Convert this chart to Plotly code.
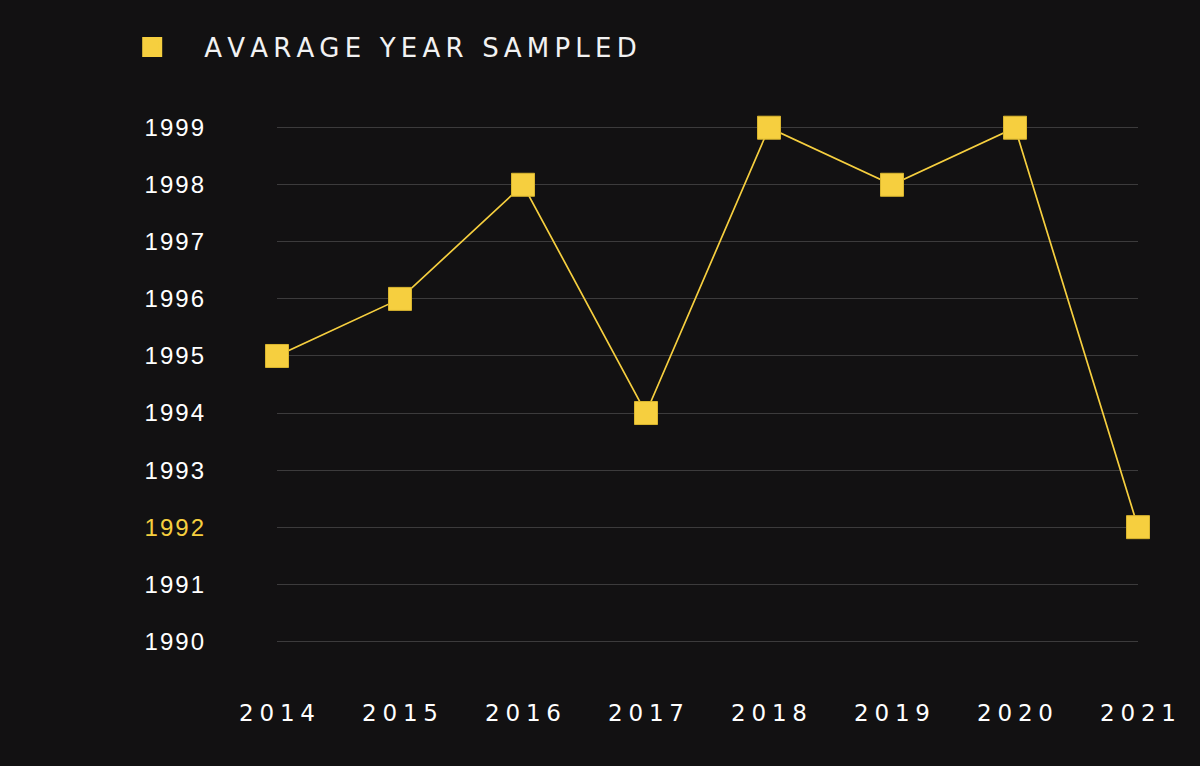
import plotly.graph_objects as go

years = [2014, 2015, 2016, 2017, 2018, 2019, 2020, 2021]
avg_year = [1995, 1996, 1998, 1994, 1999, 1998, 1999, 1992]
y_ticks = [1990, 1991, 1992, 1993, 1994, 1995, 1996, 1997, 1998, 1999]
series_name = "AVARAGE YEAR SAMPLED"

YELLOW = "#f6cf3f"
BG = "#121112"
TS = "\u2009"   # thin space for letter tracking
FS = "\u2005"
HS = "\u200a"


def track(s, sep):
    return sep.join(list(s))


y_text = []
for v in y_ticks:
    t = track(str(v), HS)
    if v == 1992:
        t = f"<span style='color:{YELLOW}'>{t}</span>"
    y_text.append(t)
x_text = [track(str(v), FS) for v in years]

fig = go.Figure()
fig.add_trace(go.Scatter(
    x=years, y=avg_year, mode="lines+markers",
    line=dict(color=YELLOW, width=1.7),
    marker=dict(symbol="square", size=23, color=YELLOW,
                line=dict(color="#d9b52f", width=1)),
    cliponaxis=False, showlegend=False, hoverinfo="x+y",
))
fig.add_trace(go.Scatter(
    x=[None], y=[None], mode="markers",
    marker=dict(symbol="square", size=16, color=YELLOW,
                line=dict(color=YELLOW, width=4)),
    name=track(series_name, TS), showlegend=True,
))

fig.update_layout(
    width=1200, height=766,
    paper_bgcolor=BG, plot_bgcolor=BG,
    margin=dict(l=277, r=62, t=122, b=119, autoexpand=False),
    font=dict(family="DejaVu Sans", color="#ffffff"),
    showlegend=True,
    legend=dict(
        x=0.0835, y=0.9386, xref="container", yref="container",
        xanchor="left", yanchor="middle",
        orientation="h", itemwidth=94,
        font=dict(size=26, color="#f2f2f2"),
        bgcolor="rgba(0,0,0,0)",
    ),
    xaxis=dict(
        range=[2014, 2021], tickvals=years, ticktext=x_text,
        showgrid=False, zeroline=False, showline=False,
        tickfont=dict(size=23, color="#ffffff"),
        ticklabelstandoff=50,
    ),
    yaxis=dict(
        range=[1989.9, 1999.1], tickvals=y_ticks, ticktext=y_text,
        showgrid=True, gridcolor="#3c3b3c", gridwidth=1,
        zeroline=False, showline=False,
        tickfont=dict(size=24, color="#ffffff", family="Liberation Sans"),
        ticklabelstandoff=72,
    ),
)

fig.write_html("out.html")
